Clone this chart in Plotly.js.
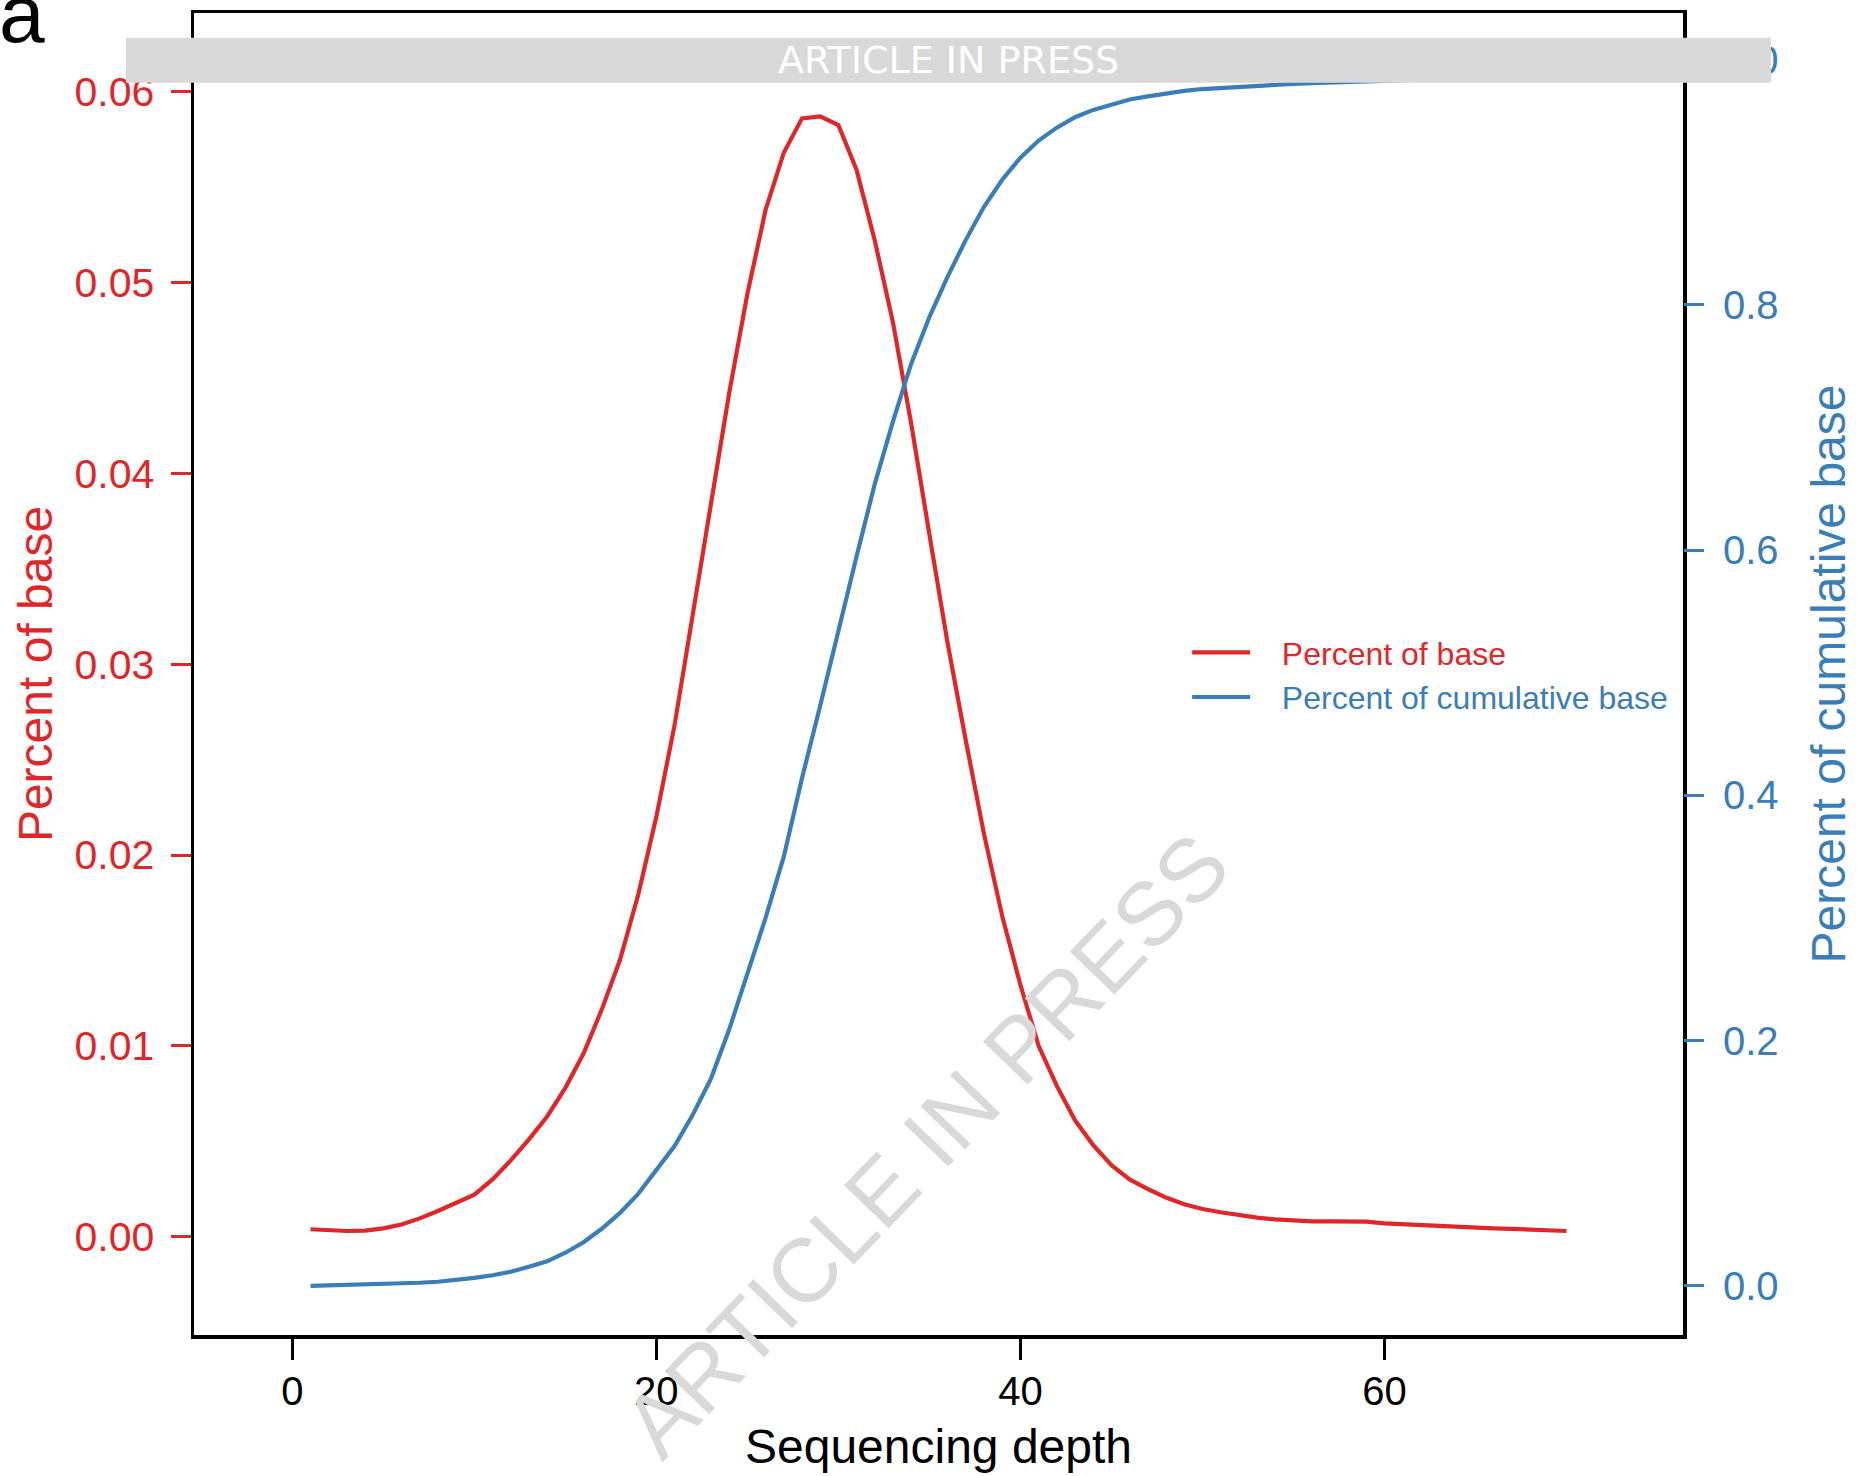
<!DOCTYPE html>
<html>
<head>
<meta charset="utf-8">
<script src="https://cdn.plot.ly/plotly-3.0.1.min.js"></script>
<style>html,body{margin:0;padding:0;background:#fff}</style>
</head>
<body>
<div id="chart" style="width:1862px;height:1476px"></div>
<script>
// ---- data ----
const depth = [1,2,3,4,5,6,7,8,9,10,11,12,13,14,15,16,17,18,19,20,
  21,22,23,24,25,26,27,28,29,30,31,32,33,34,35,36,37,38,39,40,
  41,42,43,44,45,46,47,48,49,50,51,52,53,54,55,56,57,58,59,60,
  61,62,63,64,65,66,67,68,69,70];

const percentOfBase = [0.00039,0.00033,0.00030,0.00032,0.00044,0.00064,0.00096,0.00135,0.00176,0.00220,
  0.00300,0.00400,0.00510,0.00630,0.00780,0.00960,0.01190,0.01450,0.01790,0.02200,
  0.02680,0.03250,0.03850,0.04420,0.04940,0.05380,0.05680,0.05860,0.05870,0.05825,
  0.05590,0.05220,0.04790,0.04260,0.03680,0.03110,0.02600,0.02110,0.01680,0.01320,
  0.01000,0.00790,0.00610,0.00480,0.00375,0.00300,0.00250,0.00205,0.00170,0.00145,
  0.00128,0.00113,0.00100,0.00091,0.00085,0.00080,0.00080,0.00079,0.00079,0.00070,
  0.00065,0.00062,0.00058,0.00054,0.00048,0.00044,0.00041,0.00037,0.00033,0.00030];

const percentOfCumulativeBase = [0.000,0.0003,0.0006,0.0009,0.0013,0.0018,0.0025,0.0033,0.0046,0.0065,
  0.0086,0.0115,0.0155,0.0200,0.0270,0.0355,0.0465,0.0595,0.0750,0.0940,
  0.1140,0.1395,0.1690,0.2090,0.2540,0.3000,0.3500,0.4140,0.4730,0.5350,
  0.5950,0.6540,0.7050,0.7520,0.7900,0.8230,0.8530,0.8800,0.9020,0.9200,
  0.9340,0.9445,0.9530,0.9590,0.9635,0.9675,0.9700,0.9725,0.9745,0.9760,
  0.9770,0.9780,0.9788,0.9795,0.9802,0.9808,0.9814,0.9819,0.9824,0.9829,
  0.9833,0.9837,0.9841,0.9845,0.9849,0.9853,0.9857,0.9861,0.9865,0.9869];

const xTickVals = [0,20,40,60];
const xTickText = ['0','20','40','60'];
const leftTickVals = [0,0.01,0.02,0.03,0.04,0.05,0.06];
const leftTickText = ['0.00','0.01','0.02','0.03','0.04','0.05','0.06'];
const rightTickVals = [0,0.2,0.4,0.6,0.8,1.0];
const rightTickText = ['0.0','0.2','0.4','0.6','0.8','1.0'];

const seriesNames = ['Percent of base','Percent of cumulative base'];
const xTitle = 'Sequencing depth';
const leftTitle = 'Percent of base';
const rightTitle = 'Percent of cumulative base';
const bannerText = 'ARTICLE IN PRESS';
const panelLabel = 'a';

// ---- styles ----
const RED = '#DF272A';
const BLUE = '#3A7DB7';
const FONT = 'Liberation Sans, Arial, Helvetica, sans-serif';
const GAP = '\u00A0\u00A0\u00A0';

const traces = [
  {
    x: depth, y: percentOfBase, type: 'scatter', mode: 'lines',
    name: '<span style="color:' + RED + '">' + GAP + seriesNames[0] + '</span>',
    line: {color: RED, width: 4.2}, yaxis: 'y', hoverinfo: 'skip'
  },
  {
    x: depth, y: percentOfCumulativeBase, type: 'scatter', mode: 'lines',
    name: '<span style="color:' + BLUE + '">' + GAP + seriesNames[1] + '</span>',
    line: {color: BLUE, width: 4.2}, yaxis: 'y2', hoverinfo: 'skip'
  }
];

const layout = {
  width: 1862, height: 1476,
  margin: {l: 194, r: 179, t: 13, b: 141, pad: 0},
  paper_bgcolor: '#fff', plot_bgcolor: '#fff',
  font: {family: FONT, color: '#000'},
  showlegend: true,
  legend: {
    x: 0.667, y: 0.537, xanchor: 'left', yanchor: 'top',
    bgcolor: 'rgba(0,0,0,0)', borderwidth: 0,
    font: {size: 32, family: FONT},
    itemwidth: 58, tracegroupgap: 0
  },
  xaxis: {
    range: [-5.4, 76.4],
    tickmode: 'array', tickvals: xTickVals, ticktext: xTickText,
    ticks: 'outside', ticklen: 21, tickwidth: 2.5, tickcolor: '#000',
    ticklabelstandoff: -3,
    tickfont: {size: 40, color: '#000', family: FONT},
    showline: true, mirror: true, linecolor: '#000', linewidth: 3.5,
    showgrid: false, zeroline: false,
    title: {text: xTitle, font: {size: 48, color: '#000', family: FONT}, standoff: 19}
  },
  yaxis: {
    range: [-0.00515, 0.06412],
    tickmode: 'array', tickvals: leftTickVals, ticktext: leftTickText,
    ticks: 'outside', ticklen: 20, tickwidth: 3, tickcolor: RED,
    ticklabelstandoff: 8,
    tickfont: {size: 41, color: RED, family: FONT},
    showline: true, mirror: true, linecolor: '#000', linewidth: 3.5,
    showgrid: false, zeroline: false,
    title: {text: leftTitle, font: {size: 48, color: RED, family: FONT}, standoff: 7}
  },
  yaxis2: {
    overlaying: 'y', side: 'right',
    range: [-0.0401, 1.038],
    tickmode: 'array', tickvals: rightTickVals, ticktext: rightTickText,
    ticks: 'outside', ticklen: 20, tickwidth: 3, tickcolor: BLUE,
    ticklabelstandoff: 11,
    tickfont: {size: 40, color: BLUE, family: FONT},
    showline: false, showgrid: false, zeroline: false,
    title: {text: rightTitle, font: {size: 48, color: BLUE, family: FONT}, standoff: 33}
  },
  shapes: [
    {type: 'rect', xref: 'paper', yref: 'paper',
     x0: -0.0457, x1: 1.0591, y0: 0.9473, y1: 0.9813,
     fillcolor: '#D9D9D9', line: {width: 0}, layer: 'above'}
  ],
  annotations: [
    {xref: 'paper', yref: 'paper', x: 0.5068, y: 0.9643, xanchor: 'center', yanchor: 'middle',
     text: bannerText, showarrow: false,
     font: {size: 38, color: '#FFFFFF', family: 'DejaVu Sans, sans-serif'}},
    {xref: 'paper', yref: 'paper', x: 0.4915, y: 0.1440, xanchor: 'center', yanchor: 'middle',
     text: bannerText, showarrow: false, textangle: -46,
     font: {size: 90, color: '#D9D9D9', family: FONT}},
    {xref: 'paper', yref: 'paper', x: -0.132, y: 1.0, xanchor: 'left', yanchor: 'middle',
     text: panelLabel, showarrow: false,
     font: {size: 82, color: '#000', family: FONT}}
  ]
};

Plotly.newPlot('chart', traces, layout, {displayModeBar: false, staticPlot: true});
</script>
</body>
</html>
